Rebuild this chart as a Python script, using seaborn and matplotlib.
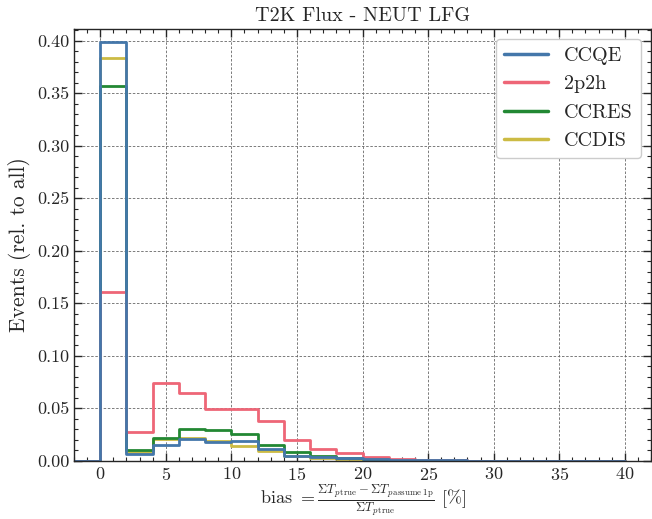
import numpy as np
import pandas as pd
import matplotlib
matplotlib.use("Agg")
import matplotlib.pyplot as plt
import seaborn as sns
from matplotlib.lines import Line2D
from matplotlib.ticker import MultipleLocator

# ---- data ----
bin_edges = list(range(-2, 42, 2))
categories = ["CCQE", "2p2h", "CCRES", "CCDIS"]
# first entry is an empty bin [-2, 0)
ccqe = [0, 0.399, 0.006, 0.0152, 0.0205, 0.0178, 0.0187, 0.0111, 0.0048, 0.0035, 0.0025,
        0.0019, 0.0010, 0.0005, 0.0003, 0, 0, 0, 0, 0, 0]
p2h = [0, 0.1606, 0.027, 0.0738, 0.0643, 0.0494, 0.0488, 0.038, 0.0193, 0.0114, 0.0073,
       0.0035, 0.0019, 0.0008, 0.0003, 0, 0, 0, 0, 0, 0]
ccres = [0, 0.3566, 0.0105, 0.0219, 0.030, 0.029, 0.0253, 0.0149, 0.0082, 0.0044, 0.0025,
         0.0012, 0.0006, 0.0002, 0, 0, 0, 0, 0, 0, 0]
ccdis = [0, 0.3838, 0.008, 0.0205, 0.0215, 0.0184, 0.0143, 0.0095, 0.0048, 0.0022, 0.0012,
         0.0006, 0.0003, 0, 0, 0, 0, 0, 0, 0, 0]
colors = ["#4477AA", "#EE6677", "#228833", "#CCBB44"]

series = [ccqe, p2h, ccres, ccdis]
centers = [(a + b) / 2 for a, b in zip(bin_edges[:-1], bin_edges[1:])]
rows = []
for name, vals in zip(categories, series):
    for c, v in zip(centers, vals):
        rows.append({"bias": c, "w": v, "mode": name})
df = pd.DataFrame(rows)

sns.set_style("ticks")
plt.rcParams.update({
    "font.family": "serif",
    "font.serif": ["cmr10"],
    "mathtext.fontset": "cm",
    "axes.formatter.use_mathtext": True,
    "axes.unicode_minus": False,
})

fig = plt.figure(figsize=(6.52, 5.19), dpi=100)
ax = fig.add_axes([0.1135, 0.1123, 0.8850, 0.8317])

sns.histplot(data=df, x="bias", weights="w", hue="mode", hue_order=categories,
             bins=bin_edges, element="step", fill=False, palette=colors,
             linewidth=2.0, legend=False, ax=ax)

ax.set_xlim(-2, 42)
ax.set_ylim(0, 0.411)
ax.xaxis.set_major_locator(MultipleLocator(5))
ax.xaxis.set_minor_locator(MultipleLocator(1))
ax.yaxis.set_major_locator(MultipleLocator(0.05))
ax.yaxis.set_minor_locator(MultipleLocator(0.01))
ax.yaxis.set_major_formatter(matplotlib.ticker.FormatStrFormatter("%.2f"))
ax.tick_params(which="both", direction="in", top=True, right=True, labelsize=13)
ax.tick_params(which="major", length=6, width=1.0)
ax.tick_params(which="minor", length=3, width=0.8)
for s in ax.spines.values():
    s.set_linewidth(1.0)
    s.set_zorder(3)
ax.grid(True, which="major", linestyle=(0, (3, 2)), color="#666666", linewidth=0.6)
ax.set_axisbelow(True)

ax.set_title("T2K Flux - NEUT LFG", fontsize=14.5)
ax.set_ylabel("Events (rel. to all)", fontsize=15.5)
ax.set_xlabel(r"bias $= \frac{\Sigma T_{p\,\mathrm{true}} - \Sigma T_{p\,\mathrm{assume\;1p}}}{\Sigma T_{p\,\mathrm{true}}}$ [%]",
              fontsize=13)
ax.xaxis.set_label_coords(0.5, -0.05)

handles = [Line2D([0], [0], color=c, lw=2.5) for c in colors]
ax.legend(handles, categories, loc="upper right", fontsize=14.5, frameon=True,
          fancybox=True, edgecolor="#cccccc", framealpha=1.0, handlelength=2.2,
          borderaxespad=0.5)

fig.savefig("out.png", dpi=100)
